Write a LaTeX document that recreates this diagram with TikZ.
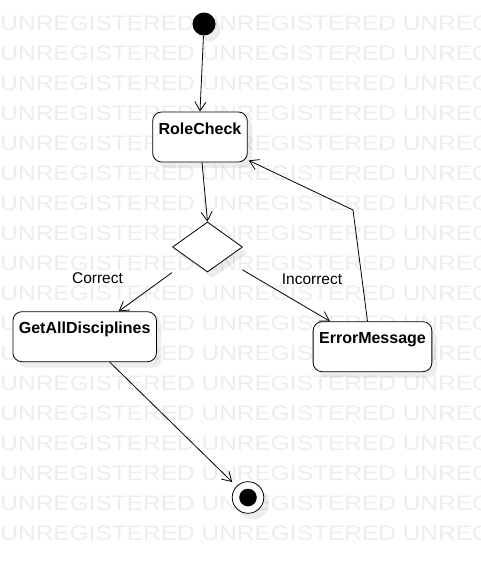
\documentclass[tikz,border=0pt]{standalone}
\usepackage{fontspec}
\setmainfont{Liberation Sans}
\usetikzlibrary{positioning,arrows.meta,shapes.geometric,shadows}

\begin{document}
\begin{tikzpicture}[
	x=1pt, y=-1pt,
	line width=0.8pt,
	>={Straight Barb[length=9pt,width=11pt]},
	shade/.style={drop shadow={shadow xshift=5pt,shadow yshift=-6pt,fill=black,opacity=0.07}},
	state/.style={draw, fill=white, rounded corners=9pt, shade, inner xsep=6pt, inner ysep=10pt,
		text height=12pt, text depth=18pt, font=\fontsize{16}{19}\selectfont\bfseries},
	choice/.style={draw, fill=white, diamond, shade, minimum width=70pt, minimum height=50pt, inner sep=0pt},
	initial/.style={circle, fill=black, minimum size=23pt, inner sep=0pt, shade},
	final/.style={circle, draw, fill=white, minimum size=31.6pt, inner sep=0pt, shade},
	guard/.style={font=\fontsize{15.5}{18}\selectfont, inner sep=0pt},
	watermark/.style={text=black!7, font=\fontsize{21}{25}\selectfont, xscale=1.165, inner sep=0pt, anchor=base west}
]
\useasboundingbox (0,0) rectangle (481,563);

%% Background lettering
\begin{scope}
\clip (0,0) rectangle (481,563);
\foreach \row in {0,...,17}
	\node[watermark] (wm\row) at (0,30+30*\row) {UNREGISTERED UNREGISTERED UNREGISTERED};
\end{scope}

%% Draw states
\node[initial] (start) at (204,24) {};
\node[state] (role) at (200,137) {RoleCheck};
\node[choice] (check) at (207.5,247) {};
\node[state] (disc) at (84.7,336.7) {GetAllDisciplines};
\node[state] (err) at (372.5,346.7) {ErrorMessage};
\node[final] (stop) at (248,497.5) {};
\node[circle, fill=black, minimum size=17.6pt, inner sep=0pt] (stopdot) at (stop) {};

\node[guard] (lcorrect) at (97.5,278.5) {Correct};
\node[guard] (lincorrect) at (312,279.5) {Incorrect};

%% Draw transitions
\coordinate (bend) at (353,210);
\draw[->] (start) -- (role.north);
\draw[->] ([xshift=2pt]role.south) -- (check.north);
\draw[->, shorten <=22pt] (check.south west) -- ([xshift=34pt]disc.north);
\draw[->, shorten <=20pt] (check.south east) -- ([xshift=-42.5pt]err.north);
\draw[->] ([xshift=-5pt]err.north) -- (bend) -- ([shift={(1pt,2pt)}]role.south east);
\draw[->, shorten >=6pt] ([xshift=25pt]disc.south) -- (stop);

\end{tikzpicture}
\end{document}
